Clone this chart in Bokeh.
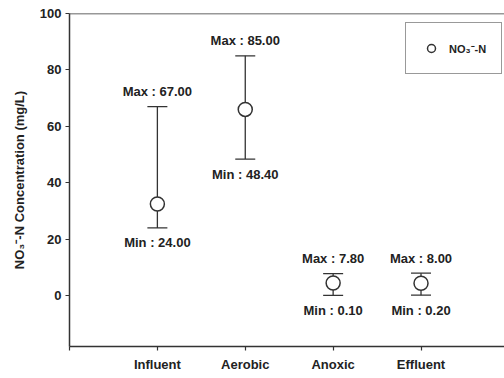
from bokeh.plotting import figure
from bokeh.models import (ColumnDataSource, Whisker, TeeHead, Span, Legend,
                          LegendItem, FixedTicker, Range1d, Title)
from bokeh.core.properties import value
from bokeh.embed import file_html
from bokeh.resources import INLINE

# NO3--N concentration by treatment stage
stages = ["Influent", "Aerobic", "Anoxic", "Effluent"]
positions = [1, 2, 3, 4]
mean_conc = [32.5, 66.0, 4.5, 4.4]
max_conc = [67.00, 85.00, 7.80, 8.00]
min_conc = [24.00, 48.40, 0.10, 0.20]

FONT = "Liberation Sans"
INK = "#333333"

src = ColumnDataSource(dict(
    x=positions, mean=mean_conc, hi=max_conc, lo=min_conc,
    max_txt=[f"Max : {v:.2f}" for v in max_conc],
    min_txt=[f"Min : {v:.2f}" for v in min_conc],
))

p = figure(width=504, height=378, output_backend="svg", toolbar_location=None,
           x_range=Range1d(0, 4.95), y_range=Range1d(-18, 100),
           min_border_left=69, min_border_right=0, min_border_top=13,
           min_border_bottom=32)
p.outline_line_color = None
p.grid.visible = False
p.background_fill_color = "white"

# top frame line
p.add_layout(Span(location=100, dimension="width", line_color=INK, line_width=1.5))

# min/max whiskers
whisk = Whisker(source=src, base="x", upper="hi", lower="lo", dimension="height",
                line_color=INK, line_width=1.3, level="underlay",
                upper_head=TeeHead(size=20, line_color=INK, line_width=1.3),
                lower_head=TeeHead(size=20, line_color=INK, line_width=1.3))
p.add_layout(whisk)

pts = p.scatter("x", "mean", source=src, marker="circle", size=14,
                fill_color="white", line_color=INK, line_width=1.5)

p.text("x", "hi", text="max_txt", source=src, y_offset=-15,
       text_align="center", text_baseline="middle",
       text_font=value(FONT), text_font_style="bold", text_font_size="13px",
       text_color="#222222")
p.text("x", "lo", text="min_txt", source=src, y_offset=15,
       text_align="center", text_baseline="middle",
       text_font=value(FONT), text_font_style="bold", text_font_size="13px",
       text_color="#222222")

# axes
for ax in (p.xaxis[0], p.yaxis[0]):
    ax.axis_line_color = INK
    ax.axis_line_width = 1.5
    ax.major_tick_line_color = INK
    ax.major_tick_line_width = 1.2
    ax.major_tick_in = 0
    ax.major_tick_out = 4
    ax.minor_tick_line_color = None
    ax.major_label_text_font = FONT
    ax.major_label_text_font_style = "bold"
    ax.major_label_text_color = "#222222"

p.yaxis.ticker = FixedTicker(ticks=[0, 20, 40, 60, 80, 100])
p.yaxis.major_label_text_font_size = "13px"
p.yaxis.major_label_standoff = 4

# y-axis title as a left-side title
p.add_layout(Title(text="NO\u2083\u207b-N Concentration (mg/L)", align="center",
                   offset=-14, standoff=19,
                   text_font=FONT, text_font_style="bold", text_font_size="13px",
                   text_color="#222222"), "left")

p.xaxis.ticker = FixedTicker(ticks=[0] + positions)
p.xaxis.major_label_overrides = {0: ""} | {pos: s for pos, s in zip(positions, stages)}
p.xaxis.major_label_text_font_size = "13px"
p.xaxis.major_label_standoff = 6

legend = Legend(items=[LegendItem(label="NO\u2083\u207b-N", renderers=[pts])],
                location=(336, 272), orientation="vertical",
                border_line_color=INK, border_line_width=1.3,
                padding=15, spacing=0, margin=0,
                glyph_width=20, glyph_height=20, label_height=20,
                label_standoff=8, label_text_font=FONT,
                label_text_font_style="bold", label_text_font_size="11px",
                label_text_color="#222222", background_fill_alpha=1)
p.add_layout(legend, "center")

open("out.html", "w").write(file_html(p, INLINE))
